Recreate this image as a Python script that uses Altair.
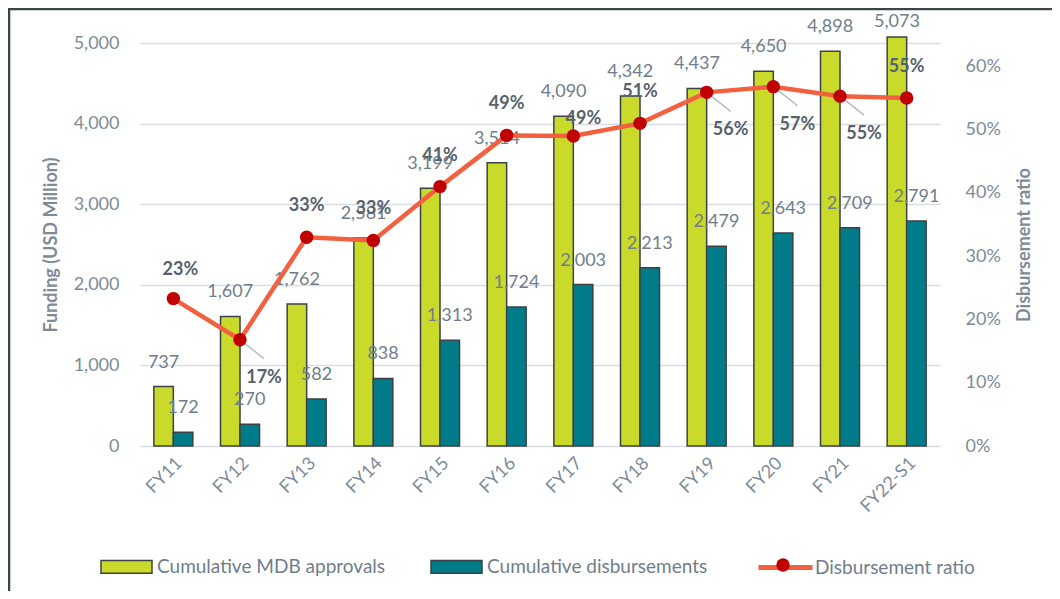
import altair as alt
import pandas as pd

categories = ["FY11", "FY12", "FY13", "FY14", "FY15", "FY16",
              "FY17", "FY18", "FY19", "FY20", "FY21", "FY22-S1"]
approvals = [737, 1607, 1762, 2581, 3199, 3514, 4090, 4342, 4437, 4650, 4898, 5073]
disbursements = [172, 270, 582, 838, 1313, 1724, 2003, 2213, 2479, 2643, 2709, 2791]
ratio = [0.233, 0.168, 0.330, 0.325, 0.410, 0.491, 0.490, 0.510, 0.559, 0.568, 0.553, 0.550]

bar_series = ["Cumulative MDB approvals", "Cumulative disbursements"]
line_series = "Disbursement ratio"

# label placement groups (layout only)
above_cats = ["FY13", "FY14", "FY15", "FY16", "FY18", "FY22-S1"]
first_cat = ["FY11"]
near_cat = ["FY17"]
leader_cats = ["FY12", "FY19", "FY20", "FY21"]

FONT = "Lato"
GREY_TXT = "#6f7e8a"
AXIS_TXT = "#7d8b97"
BOLD_TXT = "#56636e"
GREEN = "#c9da2a"
TEAL = "#007b8a"
ORANGE = "#f2603f"
RED = "#c00000"
EDGE = "#3b4246"

bars_df = pd.DataFrame({
    "cat": categories * 2,
    "series": [bar_series[0]] * len(categories) + [bar_series[1]] * len(categories),
    "value": approvals + disbursements,
})
ratio_df = pd.DataFrame({
    "cat": categories,
    "ratio": ratio,
    "series": [line_series] * len(categories),
    "pt": ["pt"] * len(categories),
})
frame_df = pd.DataFrame({"a": [0]})

x_enc = alt.X("cat:N", sort=categories,
              scale=alt.Scale(paddingInner=0.415, paddingOuter=0.2075),
              axis=alt.Axis(title=None, labelAngle=315, labelFont=FONT, labelFontSize=18,
                            labelColor=AXIS_TXT, labelPadding=8, ticks=False, domain=False,
                            grid=False))

left_axis = alt.Axis(title="Funding (USD Million)", titleFont=FONT, titleFontSize=18,
                     titleFontWeight="bold", titleColor=AXIS_TXT, titleX=-80,
                     labelFont=FONT, labelFontSize=18, labelColor=AXIS_TXT, labelPadding=21,
                     format=",.0f", values=[0, 1000, 2000, 3000, 4000, 5000],
                     grid=True, gridColor="#d9dde2", gridWidth=1.5,
                     ticks=False, domain=False)
right_axis = alt.Axis(title="Disbursement ratio", orient="right", titleAngle=270,
                      titleFont=FONT, titleFontSize=18, titleFontWeight="bold",
                      titleColor=AXIS_TXT, titleX=93,
                      labelFont=FONT, labelFontSize=18, labelColor=AXIS_TXT, labelPadding=25,
                      format=".0%", values=[0, 0.1, 0.2, 0.3, 0.4, 0.5, 0.6],
                      grid=False, ticks=False, domain=False)

y_left = alt.Y("value:Q", scale=alt.Scale(domain=[0, 5000], nice=False), axis=left_axis)
y_right = alt.Y("ratio:Q", scale=alt.Scale(domain=[0, 0.637], nice=False), axis=right_axis)
xoff = alt.XOffset("series:N", sort=bar_series, scale=alt.Scale(paddingInner=0, paddingOuter=0))

frame = alt.Chart(frame_df).mark_rect(fillOpacity=0, stroke="#3a4548", strokeWidth=2.5).encode(
    x=alt.value(-131), x2=alt.value(940), y=alt.value(-34), y2=alt.value(620),
)

bars = alt.Chart(bars_df).mark_bar(stroke=EDGE, strokeWidth=1.5).encode(
    x=x_enc, xOffset=xoff, y=y_left,
    fill=alt.Fill("series:N", sort=bar_series,
                  scale=alt.Scale(domain=bar_series, range=[GREEN, TEAL]),
                  legend=alt.Legend(orient="none", legendX=-40, legendY=497,
                                    direction="horizontal", title=None,
                                    symbolType="M-1,-0.25H1V0.25H-1Z", symbolSize=2601,
                                    symbolStrokeColor=EDGE, symbolStrokeWidth=1.5,
                                    labelFont=FONT, labelFontSize=19, labelColor=GREY_TXT,
                                    labelOffset=4, labelLimit=0, columnPadding=42, padding=0)),
)
bar_labels = alt.Chart(bars_df).transform_filter(
    alt.datum.value < 5000
).mark_text(font=FONT, fontSize=18, color=GREY_TXT, dy=-24).encode(
    x=x_enc, xOffset=xoff, y=y_left, text=alt.Text("value:Q", format=","),
)
top_label = alt.Chart(bars_df).transform_filter(
    alt.datum.value >= 5000
).mark_text(font=FONT, fontSize=18, color=GREY_TXT, dy=-15).encode(
    x=x_enc, xOffset=xoff, y=y_left, text=alt.Text("value:Q", format=","),
)

line = alt.Chart(ratio_df).mark_line(strokeWidth=4.5).encode(
    x=x_enc, y=y_right,
    stroke=alt.Stroke("series:N", scale=alt.Scale(domain=[line_series], range=[ORANGE]),
                      legend=alt.Legend(orient="none", legendX=616, legendY=495, title=None,
                                        symbolType="stroke", symbolSize=2916,
                                        symbolStrokeWidth=5, labelLimit=0,
                                        labelFont=FONT, labelFontSize=19, labelColor=GREY_TXT,
                                        labelOffset=0, padding=0)),
)
leaders = alt.Chart(ratio_df).transform_filter(
    alt.FieldOneOfPredicate(field="cat", oneOf=leader_cats)
).mark_rule(color="#b4bcc3", strokeWidth=1.5, x2Offset=24, y2Offset=19).encode(
    x=alt.X("cat:N", sort=categories, bandPosition=0.5),
    x2=alt.X2("cat:N", bandPosition=0.5),
    y=y_right, y2=alt.Y2("ratio:Q"),
)
points = alt.Chart(ratio_df).mark_circle(size=180, opacity=1).encode(
    x=x_enc, y=y_right,
    color=alt.Color("pt:N", scale=alt.Scale(domain=["pt"], range=[RED]),
                    legend=alt.Legend(orient="none", legendX=636, legendY=515, title=None,
                                      symbolType="circle", symbolSize=180,
                                      symbolStrokeWidth=0, labelExpr="''", padding=0)),
)

def ratio_text(cats, dx, dy):
    return alt.Chart(ratio_df).transform_filter(
        alt.FieldOneOfPredicate(field="cat", oneOf=cats)
    ).mark_text(font=FONT, fontSize=18, fontWeight="bold", color=BOLD_TXT, dx=dx, dy=dy).encode(
        x=x_enc, y=y_right, text=alt.Text("ratio:Q", format=".0%"),
    )

left = alt.layer(bars, bar_labels, top_label)
right = alt.layer(line, leaders, points,
                  ratio_text(above_cats, 0, -31),
                  ratio_text(first_cat, 7, -29),
                  ratio_text(near_cat, 10, -17),
                  ratio_text(leader_cats, 24, 38))

chart = alt.layer(frame, left, right).resolve_scale(
    y="independent", fill="independent", stroke="independent", color="independent"
).properties(
    width=800, height=403,
    autosize=alt.AutoSizeParams(type="none"),
    padding={"left": 132, "top": 35, "right": 112, "bottom": 145},
    background="white",
).configure_view(stroke=None)

chart.save("out.html", embed_options={"renderer": "svg", "actions": False})
